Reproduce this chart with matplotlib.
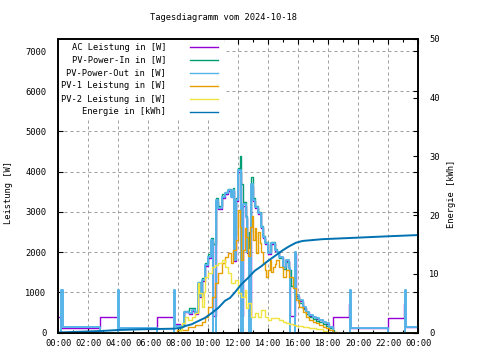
import matplotlib
matplotlib.use('Agg')
import matplotlib.pyplot as plt
from matplotlib.patches import Rectangle
from matplotlib.lines import Line2D

# Tagesdiagramm 2024-10-18, Zeit in Stunden, Leistung in W, Energie in kWh

t_ac = [0.0, 0.22, 2.8, 4.0, 6.6, 7.73, 8.13, 8.4, 8.7, 8.9, 9.1, 9.3, 9.45, 9.58, 9.8,
        10.0, 10.2, 10.36, 10.5, 10.69, 10.9, 11.13, 11.36, 11.56, 11.67, 11.75, 11.85,
        12.0, 12.2, 12.3, 12.5, 12.62, 12.73, 12.87, 13.0, 13.11, 13.33, 13.45, 13.56,
        13.67, 13.78, 14.0, 14.22, 14.44, 14.6, 14.76, 14.98, 15.2, 15.42, 15.47, 15.77,
        15.87, 16.09, 16.31, 16.53, 16.76, 16.98, 17.2, 17.42, 17.64, 17.87, 18.09, 18.31,
        18.35, 19.4, 19.47, 22.0, 23.07, 23.13, 24.0]
ac = [385, 120, 385, 120, 385, 200, 150, 500, 470, 540, 470, 1200, 880, 1280, 1650,
      1860, 2280, 400, 3250, 3080, 3350, 3440, 3520, 3360, 3520, 1780, 3280,
      4000, 400, 3150, 2850, 1980, 400, 3650, 3280, 3100, 2950, 2960, 2600,
      2360, 2200, 1960, 2200, 2030, 1990, 1870, 1620, 1780, 1580, 400, 1950,
      900, 790, 620, 500, 420, 380, 340, 300, 260, 220, 140, 100,
      378, 710, 120, 365, 700, 140, 140]

t_pv_in = [0.0, 8.1, 8.4, 8.7, 8.9, 9.1, 9.3, 9.45, 9.58, 9.8, 10.0, 10.2, 10.36, 10.5,
           10.69, 10.9, 11.13, 11.36, 11.56, 11.67, 11.75, 11.85, 12.0, 12.1, 12.2, 12.3,
           12.5, 12.62, 12.73, 12.87, 13.0, 13.11, 13.33, 13.45, 13.56, 13.67, 13.78,
           14.0, 14.22, 14.44, 14.6, 14.76, 14.98, 15.2, 15.42, 15.5, 15.8, 15.87, 16.09,
           16.31, 16.53, 16.76, 16.98, 17.2, 17.42, 17.64, 17.87, 18.09, 18.31, 18.4, 24.0]
pv_in = [0, 150, 540, 600, 600, 500, 1250, 920, 1350, 1720, 1950, 2350, 2200, 3350,
         3150, 3450, 3500, 3580, 3420, 3600, 2400, 3350, 4100, 4380, 3700, 3250,
         2900, 2100, 2500, 3880, 3350, 3150, 3000, 3000, 2650, 2400, 2250,
         2000, 2250, 2070, 2000, 1850, 1580, 1750, 1550, 1150, 1000, 870, 740,
         580, 460, 380, 330, 290, 250, 210, 170, 100, 60, 0, 0]

t_pv_out = [0.0, 0.22, 0.3, 2.8, 4.0, 4.07, 6.6, 7.7, 7.77, 8.13, 8.4, 8.7, 8.9, 9.1,
            9.3, 9.45, 9.58, 9.8, 10.0, 10.2, 10.36, 10.5, 10.69, 10.9, 11.13, 11.36,
            11.56, 11.67, 11.75, 11.85, 12.0, 12.2, 12.3, 12.5, 12.62, 12.73, 12.87,
            13.0, 13.11, 13.33, 13.45, 13.56, 13.67, 13.78, 14.0, 14.22, 14.44, 14.6,
            14.76, 14.98, 15.2, 15.42, 15.47, 15.77, 15.87, 16.09, 16.31, 16.53, 16.76,
            16.98, 17.2, 17.42, 17.64, 17.87, 18.09, 18.31, 18.35, 19.45, 19.52, 22.0,
            23.13, 23.2, 24.0]
pv_out = [0, 1057, 125, 0, 1057, 100, 0, 1057, 150, 150, 520, 480, 560, 480,
          1225, 900, 1300, 1680, 1890, 2300, 0, 3300, 3100, 3380, 3470, 3550,
          3380, 3550, 1800, 3300, 4050, 0, 3200, 2870, 2000, 0, 3700,
          3300, 3130, 2975, 2980, 2630, 2385, 2230, 1980, 2230, 2050, 2010,
          1890, 1640, 1805, 1600, 0, 2010, 930, 810, 640, 520, 435,
          395, 355, 310, 270, 230, 145, 105, 0, 1057, 105, 0,
          1057, 145, 145]

t_pv1 = [0.0, 7.9, 8.69, 9.13, 9.58, 9.8, 10.02, 10.24, 10.47, 10.69, 10.91, 11.13,
         11.36, 11.56, 11.67, 11.89, 12.0, 12.11, 12.2, 12.33, 12.45, 12.56, 12.67,
         12.78, 12.9, 13.0, 13.11, 13.22, 13.33, 13.44, 13.56, 13.67, 13.78, 13.89,
         14.0, 14.11, 14.22, 14.33, 14.44, 14.56, 14.76, 14.98, 15.2, 15.42, 15.64,
         15.87, 16.09, 16.31, 16.53, 16.76, 16.98, 17.2, 17.42, 17.64, 17.87, 18.09,
         18.31, 18.67, 24.0]
pv1 = [0, 60, 145, 190, 270, 395, 640, 890, 1225, 1470, 1720, 1890,
       1970, 1720, 2050, 2300, 3050, 2630, 1800, 2050, 2600, 2385, 1900,
       2630, 2900, 2300, 2600, 1970, 2500, 2215, 2000, 1720, 1550, 1390,
       1550, 1805, 1500, 1640, 1700, 1805, 1640, 1390, 1556, 1390, 1100,
       810, 640, 520, 395, 310, 270, 230, 187, 145, 105, 62,
       20, 0, 0]

t_pv2 = [0.0, 8.1, 8.24, 8.47, 8.69, 8.91, 9.13, 9.3, 9.4, 9.58, 9.7, 9.8, 10.02,
         10.24, 10.47, 10.69, 10.91, 11.13, 11.36, 11.56, 11.78, 12.0, 12.22, 12.44,
         12.56, 12.67, 12.89, 13.11, 13.33, 13.56, 13.78, 14.0, 14.22, 14.53, 14.76,
         14.98, 15.2, 15.42, 15.64, 15.87, 16.31, 16.76, 17.2, 17.64, 17.9, 24.0]
pv2 = [0, 60, 230, 395, 310, 395, 480, 1225, 975, 640, 1000, 1390, 1470,
       1640, 1680, 1720, 1805, 1640, 1470, 1225, 1310, 975, 890, 1060,
       600, 730, 395, 480, 395, 560, 395, 310, 353, 353, 310,
       270, 245, 212, 187, 162, 130, 105, 80, 45, 0, 0]

t_energie = [0.0, 1.13, 2.8, 4.0, 5.5, 7.7, 8.24, 8.47, 8.91, 9.36, 9.8, 10.24, 10.69,
             11.13, 11.47, 11.78, 12.22, 12.67, 13.11, 13.56, 14.0, 14.44, 14.98, 15.42,
             15.87, 16.31, 16.76, 17.2, 17.64, 18.1, 19.9, 22.1, 24.0]
energie = [0.0, 0.1, 0.25, 0.42, 0.54, 0.65, 0.82, 1.1, 1.4, 1.96, 2.5, 3.3, 4.2,
           5.4, 5.9, 6.8, 8.2, 9.3, 10.5, 11.3, 12.2, 13.0, 14.0, 14.7,
           15.3, 15.6, 15.7, 15.8, 15.9, 15.95, 16.15, 16.4, 16.6]

x_ticks = [0, 2, 4, 6, 8, 10, 12, 14, 16, 18, 20, 22, 24]
x_labels = ['00:00', '02:00', '04:00', '06:00', '08:00', '10:00', '12:00',
            '14:00', '16:00', '18:00', '20:00', '22:00', '00:00']

labels = ['AC Leistung in [W]', 'PV-Power-In in [W]', 'PV-Power-Out in [W]',
          'PV-1 Leistung in [W]', 'PV-2 Leistung in [W]', 'Energie in [kWh]']
farben = ['#9400d3', '#009e73', '#56b4e9', '#e69f00', '#f0e442', '#0072b2']

plt.rcParams['font.family'] = 'DejaVu Sans Mono'
plt.rcParams['font.size'] = 6.3

fig = plt.figure(figsize=(4.8, 3.6), dpi=100)
ax = fig.add_axes([58 / 480, 1 - 332.5 / 360, 360 / 480, 293.5 / 360])
ax2 = ax.twinx()

ax.step(t_ac, ac, where='post', color=farben[0], lw=1.0, zorder=3)
ax.step(t_pv_in, pv_in, where='post', color=farben[1], lw=1.0, zorder=3)
ax.step(t_pv_out, pv_out, where='post', color=farben[2], lw=1.4, zorder=3)
ax.step(t_pv1, pv1, where='post', color=farben[3], lw=1.0, zorder=3)
ax.step(t_pv2, pv2, where='post', color=farben[4], lw=1.0, zorder=3)
ax2.plot(t_energie, energie, color=farben[5], lw=1.4)

ax.set_xlim(0, 24)
ax.set_ylim(0, 7300)
ax2.set_ylim(0, 50)

ax.set_xticks(x_ticks)
ax.set_xticklabels(x_labels)
ax.set_xticks(range(1, 24, 2), minor=True)
ax.set_yticks(range(0, 7001, 1000))
ax2.set_yticks(range(0, 51, 10))

ax.set_axisbelow(True)
ax.grid(True, color='#a0a0a0', lw=0.72, linestyle=(0, (3, 3)))
ax.tick_params(which='major', direction='in', length=3.5, width=0.8,
               top=True, right=True, pad=5)
ax.tick_params(axis='y', pad=8.5)
ax.tick_params(which='minor', direction='in', length=2, width=0.8, top=True)
ax2.tick_params(direction='in', length=3.5, width=0.8, pad=8)

for a in (ax, ax2):
    for s in a.spines.values():
        s.set_linewidth(1.2)

# undurchsichtiger Kasten der Legende
ax.add_patch(Rectangle((0, (332.5 - 119) / 293.5), (224 - 58) / 360,
                       1 - (332.5 - 119) / 293.5, transform=ax.transAxes,
                       facecolor='white', edgecolor='none', zorder=1))

zeilen = [47, 60, 73, 86, 99, 112]
for lab, farbe, y in zip(labels, farben, zeilen):
    fig.text(166 / 480, 1 - y / 360, lab, ha='right', va='center')
    fig.add_artist(Line2D([190 / 480, 218 / 480], [1 - y / 360, 1 - y / 360],
                          color=farbe, lw=1.0))

fig.text(224 / 480, 1 - 18 / 360, 'Tagesdiagramm vom 2024-10-18', ha='center', va='center')
fig.text(9 / 480, 1 - 193 / 360, 'Leistung [W]', rotation=90, ha='center', va='center')
fig.text(452 / 480, 1 - 194 / 360, 'Energie [kWh]', rotation=90, ha='center', va='center')

fig.savefig('out.png', dpi=100)
